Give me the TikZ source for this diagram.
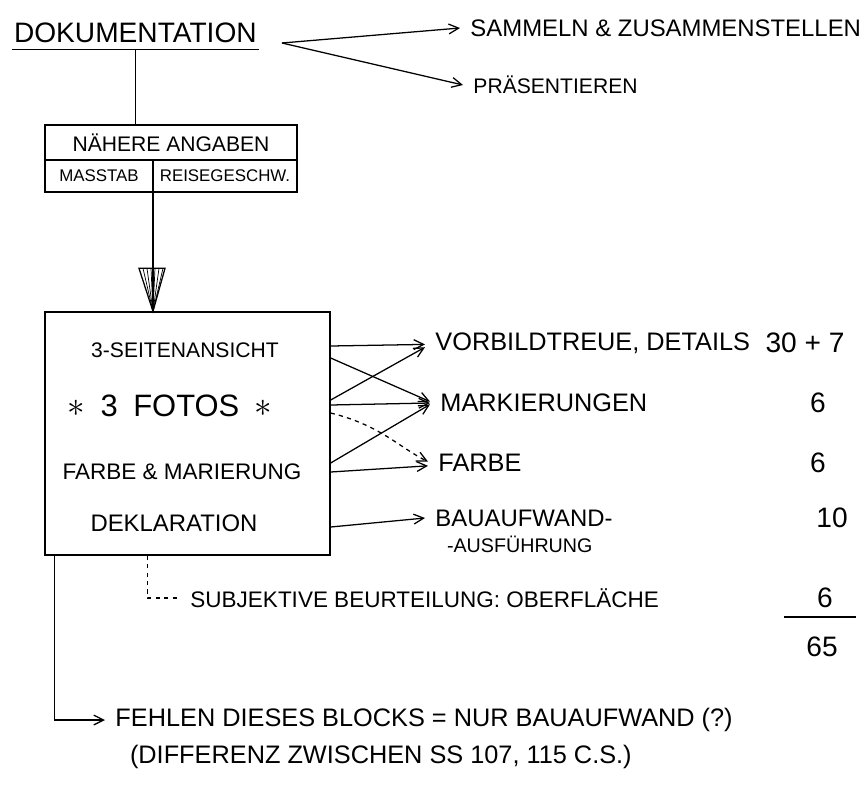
\documentclass[tikz,border=0pt]{standalone}
\usepackage{fontspec}
\setmainfont{Liberation Sans}
\usetikzlibrary{arrows.meta,positioning,calc}

\begin{document}
\begin{tikzpicture}[
    x=0.025cm, y=-0.025cm,
    line width=0.9pt,
    hand/.style={inner sep=1pt, font=\fontsize{#1}{#1}\selectfont},
    rlabel/.style={hand=#1, anchor=west, inner xsep=7pt, inner ysep=1pt},
    cell/.style={rectangle, draw, inner sep=0pt, outer sep=0pt, font=\fontsize{12}{12}\selectfont},
    arrow/.style={-{Straight Barb[length=7pt,width=7pt]}}
]
    \useasboundingbox (0,0) rectangle (868,796);

    % Heading
    \node[hand=20, anchor=west, inner ysep=4pt] (dok) at (12,33) {DOKUMENTATION};
    \node[rlabel=17] (sammeln) at (460,28) {SAMMELN \& ZUSAMMENSTELLEN};
    \node[rlabel=15] (praes) at (463,85) {PRÄSENTIEREN};
    \coordinate (dokout) at (282,43);
    \draw (dok.south west) -- (dok.south east);
    \draw[arrow] (dokout) -- (sammeln.west);
    \draw[arrow] (dokout) -- (praes.west);

    % Table
    \node[cell, minimum width=6.3cm, minimum height=0.875cm, font=\fontsize{15}{15}\selectfont] (angaben) at (171,142.5) {NÄHERE ANGABEN};
    \node[cell, minimum width=2.7cm, minimum height=0.8cm, anchor=north west] (masstab) at (angaben.south west) {MASSTAB};
    \node[cell, minimum width=3.6cm, minimum height=0.8cm, anchor=north west] (reise) at (masstab.north east) {REISEGESCHW.};
    \draw (dok.south) -- (dok.south |- angaben.north);

    % Block
    \node[draw, minimum width=7.125cm, minimum height=6.075cm] (block) at (187.5,433.5) {};
    \node[hand=15] (seiten) at (185,350) {3-SEITENANSICHT};
    \node[hand=22] (fotos) at (170,406) {{\fontsize{30}{30}\selectfont$\ast$}\hspace{0.5em}3\hspace{0.5em}FOTOS\hspace{0.5em}{\fontsize{30}{30}\selectfont$\ast$}};
    \node[hand=16] (farbe) at (182,472) {FARBE \& MARIERUNG};
    \node[hand=17] (dekl) at (174,523) {DEKLARATION};

    % Table -> block, hatched tip
    \coordinate (tip) at (masstab.south east |- block.north);
    \draw (masstab.south east) -- (tip);
    \draw (tip) -- ++(-14,-43) -- ++(26,0) -- cycle;
    \foreach \dx in {-10,-6,...,10}
        \draw[line width=0.5pt] (tip) -- ++(\dx,-43);

    % Criteria
    \node[rlabel=18] (vorbild) at (425,343) {VORBILDTREUE, DETAILS};
    \node[rlabel=18] (mark) at (430,403) {MARKIERUNGEN};
    \node[rlabel=18] (farbeR) at (428,463) {FARBE};
    \node[rlabel=17] (bau) at (425,518) {BAUAUFWAND-};
    \node[hand=14, anchor=west] (ausf) at (445,544) {-AUSFÜHRUNG};
    \node[rlabel=16] (subj) at (180,598) {SUBJEKTIVE BEURTEILUNG: OBERFLÄCHE};

    % Points
    \node[hand=20] (n1) at (805,343) {30 + 7};
    \node[hand=20] (n2) at (818,403) {6};
    \node[hand=20] (n3) at (818,463) {6};
    \node[hand=20] (n4) at (832,518) {10};
    \node[hand=20] (n5) at (825,598) {6};
    \node[hand=20] (sum) at (822,647) {65};
    \draw ([xshift=-0.95cm,yshift=0.45cm]sum.north) -- ([xshift=0.85cm,yshift=0.45cm]sum.north);

    % Arrows block -> criteria
    \foreach \y/\name in {346/ea,358/eb,400/ec,405/ed,413/ee,463/ef,472/eg,527/eh}
        \coordinate (\name) at (block.east |- 0,\y);
    \draw[arrow] (ea) -- ([yshift=-1pt]vorbild.west);
    \draw[arrow] (eb) -- ([yshift=1pt]mark.west);
    \draw[arrow] (ec) -- ([yshift=-3pt]vorbild.west);
    \draw[arrow] (ed) -- (mark.west);
    \draw[arrow, dashed] (ee) .. controls (380,425) and (400,448) .. ([yshift=1pt]farbeR.west);
    \draw[arrow] (ef) -- ([yshift=-1pt]mark.west);
    \draw[arrow] (eg) -- ([yshift=-2pt]farbeR.west);
    \draw[arrow] (eh) -- (bau.west);

    % Below the block
    \draw[dashed] ([xshift=2.575cm]block.south west) |- (subj.west);
    \node[rlabel=18] (fehlen) at (105,720) {FEHLEN DIESES BLOCKS = NUR BAUAUFWAND (?)};
    \node[hand=18, anchor=west] (diff) at (128,757) {(DIFFERENZ ZWISCHEN SS 107, 115 C.S.)};
    \draw[arrow] ([xshift=0.25cm]block.south west) |- (fehlen.west);

\end{tikzpicture}
\end{document}
